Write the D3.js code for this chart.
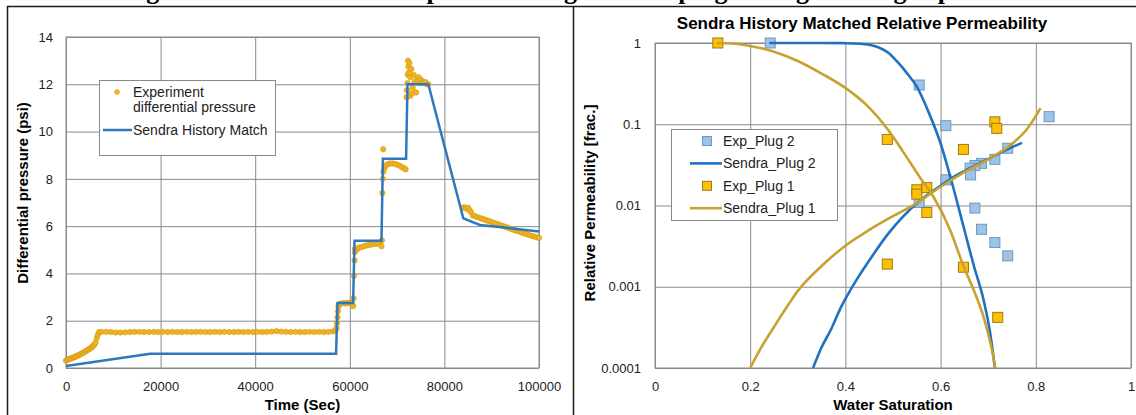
<!DOCTYPE html>
<html>
<head>
<meta charset="utf-8">
<script src="https://cdn.jsdelivr.net/npm/d3@7/dist/d3.min.js"></script>
<style>
  body { margin: 0; background: #fff; }
  svg { display: block; }
</style>
</head>
<body>
<svg id="chart" width="1136" height="415"></svg>
<script>
// ---------- data: left panel (differential pressure vs time) ----------
const timeTicks = [0, 20000, 40000, 60000, 80000, 100000];
const pressureTicks = [0, 2, 4, 6, 8, 10, 12, 14];

// experiment differential pressure, [time sec, psi]
const expPressure = [
  [0,0.32],[250,0.34],[500,0.36],[750,0.38],[1000,0.40],[1250,0.42],[1500,0.44],[1750,0.46],
  [2000,0.48],[2250,0.50],[2500,0.53],[2750,0.55],[3000,0.58],[3250,0.60],[3500,0.63],[3750,0.66],
  [4000,0.69],[4250,0.72],[4500,0.75],[4750,0.78],[5000,0.81],[5250,0.85],[5500,0.89],[5750,0.94],
  [6000,0.99],[6250,1.08],[6500,1.27],[6750,1.42],[7000,1.52],
  [7500,1.53],[8500,1.53],[9500,1.52],[10500,1.50],[11500,1.50],[12500,1.51],[13500,1.52],[14500,1.53],
  [15500,1.53],[16500,1.52],[17500,1.52],[18500,1.53],[19500,1.52],[20500,1.53],[21500,1.52],[22500,1.53],
  [23500,1.52],[24500,1.52],[25500,1.53],[26500,1.52],[27500,1.53],[28500,1.53],[29500,1.52],[30500,1.52],
  [31500,1.53],[32500,1.52],[33500,1.53],[34500,1.52],[35500,1.52],[36500,1.53],[37500,1.52],[38500,1.53],
  [39500,1.52],[40500,1.53],[41500,1.52],[42500,1.53],[43500,1.54],[44500,1.56],[45500,1.54],[46500,1.53],
  [47500,1.52],[48500,1.53],[49500,1.52],[50500,1.52],[51500,1.53],[52500,1.52],[53500,1.53],[54500,1.52],
  [55500,1.53],[56500,1.55],
  [57000,1.58],[57200,1.70],[57300,1.90],[57400,2.15],[57500,2.40],[57600,2.60],[57700,2.68],[58000,2.72],
  [58500,2.74],[59000,2.73],[59500,2.75],[60000,2.76],[60400,2.74],[60700,2.62],[60800,2.95],[60900,3.90],
  [61000,4.55],[61050,4.90],[61100,5.05],[61400,5.00],[61700,5.05],[62000,5.10],[62500,5.12],[63000,5.15],
  [63500,5.18],[64000,5.20],[64500,5.22],[65000,5.24],[65500,5.25],[66000,5.27],[66400,5.28],[66700,5.15],
  [66800,5.40],
  [66900,7.40],[67000,8.00],[67050,9.25],[67100,8.30],[67300,8.45],[67600,8.55],[68000,8.62],[68500,8.65],
  [69000,8.65],[69500,8.63],[70000,8.60],[70500,8.56],[71000,8.50],[71500,8.45],[71800,8.40],
  [72000,11.45],[72100,11.75],[72200,12.05],[72250,12.40],[72300,13.00],[72400,12.75],[72500,12.50],[72600,12.90],
  [72700,11.50],[72800,12.30],[73000,12.65],[73100,11.60],[73300,11.85],[73500,12.40],[73700,12.10],[74000,11.65],
  [74200,12.20],[74500,12.30],[74800,12.05],[75000,12.20],[75300,12.10],[75600,12.05],[76000,12.10],[76300,12.00],
  [76600,12.00],
  [84000,6.78],[84300,6.80],[84600,6.74],[85000,6.78],[85300,6.68],[85600,6.60],[86000,6.45],[86500,6.42],
  [87000,6.38],[87500,6.35],[88000,6.31],[88500,6.28],[89000,6.24],[89500,6.21],[90000,6.17],[90500,6.14],
  [91000,6.10],[91500,6.07],[92000,6.03],[92500,6.00],[93000,5.96],[93500,5.93],[94000,5.89],[94500,5.86],
  [95000,5.82],[95500,5.79],[96000,5.76],[96500,5.72],[97000,5.69],[97500,5.66],[98000,5.62],[98500,5.59],
  [99000,5.56],[99500,5.53],[100000,5.50]
];

// Sendra history match, [time sec, psi]
const matchPressure = [
  [0,0.08],[17800,0.60],[57100,0.60],[57400,2.75],[60700,2.75],[61000,5.38],[66700,5.38],[67000,8.85],
  [71900,8.85],[72200,12.0],[76600,12.0],[84000,6.33],[87500,6.05],[93200,5.93],[100000,5.77]
];

// ---------- data: right panel (relative permeability vs water saturation) ----------
const satTicks = [0, 0.2, 0.4, 0.6, 0.8, 1];
const permTicks = [0.0001, 0.001, 0.01, 0.1, 1];
const permTickLabels = ["0.0001", "0.001", "0.01", "0.1", "1"];

const plug2ExpSw = [0.242, 0.555, 0.611, 0.828, 0.741, 0.714, 0.686, 0.672, 0.662, 0.663, 0.611, 0.555, 0.672, 0.686, 0.714, 0.741];
const plug2ExpKr = [1.0, 0.304, 0.096, 0.124, 0.0506, 0.037, 0.033, 0.031, 0.0288, 0.0238, 0.0207, 0.0109, 0.0093, 0.0051, 0.0035, 0.0024];

const plug1ExpSw = [0.132, 0.488, 0.714, 0.718, 0.648, 0.550, 0.550, 0.571, 0.571, 0.488, 0.648, 0.720];
const plug1ExpKr = [1.0, 0.065, 0.107, 0.089, 0.049, 0.0156, 0.0138, 0.0166, 0.0082, 0.0019, 0.00174, 0.00042];

const plug2KroSw = [0.24, 0.3, 0.35, 0.4, 0.43, 0.45, 0.47, 0.49, 0.51, 0.53, 0.55, 0.575, 0.6, 0.625, 0.65, 0.67, 0.69, 0.705, 0.714];
const plug2KroKr = [1.0, 1.0, 1.0, 0.995, 0.98, 0.95, 0.88, 0.76, 0.58, 0.42, 0.29, 0.14, 0.058, 0.018, 0.005, 0.0018, 0.0007, 0.00025, 0.0001];
const plug2KrwSw = [0.332, 0.35, 0.37, 0.39, 0.41, 0.43, 0.45, 0.49, 0.52, 0.557, 0.6, 0.63, 0.662, 0.71, 0.746, 0.771];
const plug2KrwKr = [0.0001, 0.00018, 0.0003, 0.00055, 0.0009, 0.0014, 0.0021, 0.0045, 0.0072, 0.0115, 0.0175, 0.023, 0.029, 0.04, 0.051, 0.059];

const plug1KroSw = [0.13, 0.17, 0.2, 0.25, 0.3, 0.35, 0.4, 0.45, 0.49, 0.52, 0.557, 0.585, 0.62, 0.648, 0.67, 0.69, 0.705, 0.715];
const plug1KroKr = [1.0, 0.98, 0.92, 0.78, 0.6, 0.42, 0.28, 0.16, 0.085, 0.047, 0.022, 0.0128, 0.005, 0.0018, 0.0009, 0.00043, 0.0002, 0.0001];
const plug1KrwSw = [0.2, 0.22, 0.25, 0.28, 0.3, 0.35, 0.4, 0.45, 0.5, 0.55, 0.6, 0.65, 0.7, 0.75, 0.78, 0.8, 0.81];
const plug1KrwKr = [0.0001, 0.000166, 0.00032, 0.0006, 0.00089, 0.0018, 0.0032, 0.005, 0.0074, 0.0107, 0.017, 0.0257, 0.037, 0.0575, 0.085, 0.126, 0.158];

// ---------- style ----------
const font = "'Liberation Sans', Arial, sans-serif";
const gridColor = "#8a8a8a";
const dotColor = "#EFB220";
const matchBlue = "#2F78BE";
const plug1Line = "#C9A12F";
const plug2Line = "#1F73BE";
const plug1Fill = "#FFC000";
const plug2Fill = "#9DC3E6";

const svg = d3.select("#chart");

// caption of the page, cut off at the top as in the source
svg.append("text")
  .attr("x", 586)
  .attr("y", -1)
  .attr("text-anchor", "middle")
  .attr("font-family", "'Liberation Serif', 'Times New Roman', serif")
  .attr("font-weight", "bold")
  .attr("font-size", "26px")
  .attr("fill", "#000")
  .text("Figure 6: Water saturation profiles along the core plug during flooding experiments");

// panel frames
svg.append("path")
  .attr("d", "M7.5,415V6.5H1136M573.5,6.5V415")
  .attr("fill", "none")
  .attr("stroke", "#1a1a1a")
  .attr("stroke-width", 1.5);

// === Left chart ===
const xL = d3.scaleLinear().domain([0, 100000]).range([66, 539]);
const yL = d3.scaleLinear().domain([0, 14]).range([368, 37]);

const left = svg.append("g");

left.append("g")
  .attr("transform", `translate(0,${yL(0)})`)
  .call(d3.axisBottom(xL).tickValues(timeTicks).tickSize(-(yL(0) - yL(14))).tickPadding(14).tickFormat(d3.format("d")))
  .call(g => g.select(".domain").remove());

left.append("g")
  .attr("transform", `translate(${xL(0)},0)`)
  .call(d3.axisLeft(yL).tickValues(pressureTicks).tickSize(-(xL(100000) - xL(0))).tickPadding(13))
  .call(g => g.select(".domain").remove());

left.append("rect")
  .attr("x", xL(0)).attr("y", yL(14))
  .attr("width", xL(100000) - xL(0)).attr("height", yL(0) - yL(14))
  .attr("fill", "none").attr("stroke", gridColor);

left.append("g")
  .selectAll("circle")
  .data(expPressure)
  .join("circle")
  .attr("cx", d => xL(d[0]))
  .attr("cy", d => yL(d[1]))
  .attr("r", 2.7)
  .attr("fill", dotColor)
  .attr("stroke", "#D49C14")
  .attr("stroke-width", 0.6);

left.append("path")
  .datum(matchPressure)
  .attr("fill", "none")
  .attr("stroke", matchBlue)
  .attr("stroke-width", 2.5)
  .attr("d", d3.line().x(d => xL(d[0])).y(d => yL(d[1])));

left.append("text")
  .attr("x", (xL(0) + xL(100000)) / 2).attr("y", 410)
  .attr("text-anchor", "middle").attr("font-weight", "bold").attr("font-size", "15px")
  .text("Time (Sec)");

left.append("text")
  .attr("transform", "translate(28,193) rotate(-90)")
  .attr("text-anchor", "middle").attr("font-weight", "bold").attr("font-size", "15px")
  .text("Differential pressure (psi)");

// legend
const legL = left.append("g");
legL.append("rect")
  .attr("x", 99.5).attr("y", 80.5).attr("width", 176).attr("height", 75)
  .attr("fill", "#fff").attr("stroke", gridColor);
legL.append("circle").attr("cx", 117).attr("cy", 92).attr("r", 2.8).attr("fill", dotColor);
legL.append("text").attr("x", 133).attr("y", 97).text("Experiment");
legL.append("text").attr("x", 133).attr("y", 112).text("differential pressure");
legL.append("line").attr("x1", 103).attr("x2", 132).attr("y1", 130).attr("y2", 130)
  .attr("stroke", matchBlue).attr("stroke-width", 2.5);
legL.append("text").attr("x", 133).attr("y", 135).text("Sendra History Match");
legL.selectAll("text").attr("font-size", "14px").attr("fill", "#222");

// === Right chart ===
const xR = d3.scaleLinear().domain([0, 1]).range([655, 1131]);
const yR = d3.scaleLog().domain([0.0001, 1]).range([368, 43]);

const right = svg.append("g");

right.append("g")
  .attr("transform", `translate(0,${yR(0.0001)})`)
  .call(d3.axisBottom(xR).tickValues(satTicks).tickSize(-(yR(0.0001) - yR(1))).tickPadding(14).tickFormat(d => d3.format("")(d)))
  .call(g => g.select(".domain").remove());

right.append("g")
  .attr("transform", `translate(${xR(0)},0)`)
  .call(d3.axisLeft(yR).tickValues(permTicks).tickSize(-(xR(1) - xR(0))).tickPadding(14)
    .tickFormat((d, i) => permTickLabels[i]))
  .call(g => g.select(".domain").remove());

right.append("rect")
  .attr("x", xR(0)).attr("y", yR(1))
  .attr("width", xR(1) - xR(0)).attr("height", yR(0.0001) - yR(1))
  .attr("fill", "none").attr("stroke", gridColor);

const krLine = d3.line().curve(d3.curveMonotoneX).x(d => xR(d[0])).y(d => yR(d[1]));
const zip = (a, b) => a.map((v, i) => [v, b[i]]);
const sq = 10;

const drawSquares = (sw, kr, fill, stroke) => {
  right.append("g")
    .selectAll("rect")
    .data(zip(sw, kr))
    .join("rect")
    .attr("x", d => xR(d[0]) - sq / 2)
    .attr("y", d => yR(d[1]) - sq / 2)
    .attr("width", sq).attr("height", sq)
    .attr("fill", fill).attr("stroke", stroke).attr("stroke-width", 1);
};
const drawCurve = (sw, kr, color) => {
  right.append("path")
    .datum(zip(sw, kr))
    .attr("fill", "none").attr("stroke", color).attr("stroke-width", 2.6)
    .attr("d", krLine);
};

// series order as in the legend
drawSquares(plug2ExpSw, plug2ExpKr, plug2Fill, "#7098C0");
drawCurve(plug2KroSw, plug2KroKr, plug2Line);
drawCurve(plug2KrwSw, plug2KrwKr, plug2Line);
drawSquares(plug1ExpSw, plug1ExpKr, plug1Fill, "#9C7A1B");
drawCurve(plug1KroSw, plug1KroKr, plug1Line);
drawCurve(plug1KrwSw, plug1KrwKr, plug1Line);

right.append("text")
  .attr("x", 862).attr("y", 29)
  .attr("text-anchor", "middle").attr("font-weight", "bold").attr("font-size", "17px")
  .text("Sendra History Matched Relative Permeability");

right.append("text")
  .attr("x", (xR(0) + xR(1)) / 2).attr("y", 410)
  .attr("text-anchor", "middle").attr("font-weight", "bold").attr("font-size", "15px")
  .text("Water Saturation");

right.append("text")
  .attr("transform", "translate(595,203) rotate(-90)")
  .attr("text-anchor", "middle").attr("font-weight", "bold").attr("font-size", "15px")
  .text("Relative Permeability [frac.]");

// legend
const legItems = [
  { label: "Exp_Plug 2", kind: "square", fill: plug2Fill, stroke: "#7098C0" },
  { label: "Sendra_Plug 2", kind: "line", stroke: plug2Line },
  { label: "Exp_Plug 1", kind: "square", fill: plug1Fill, stroke: "#9C7A1B" },
  { label: "Sendra_Plug 1", kind: "line", stroke: plug1Line }
];
const legR = right.append("g");
legR.append("rect")
  .attr("x", 671.5).attr("y", 129.5).attr("width", 166).attr("height", 91)
  .attr("fill", "#fff").attr("stroke", gridColor);
legR.selectAll("g")
  .data(legItems)
  .join("g")
  .attr("transform", (d, i) => `translate(0,${141 + i * 22.4})`)
  .each(function (d) {
    const g = d3.select(this);
    if (d.kind === "square") {
      g.append("rect").attr("x", 702.5).attr("y", -4.5).attr("width", 9).attr("height", 9)
        .attr("fill", d.fill).attr("stroke", d.stroke);
    } else {
      g.append("line").attr("x1", 690).attr("x2", 722).attr("y1", 0).attr("y2", 0)
        .attr("stroke", d.stroke).attr("stroke-width", 2.6);
    }
    g.append("text").attr("x", 723).attr("y", 5).attr("font-size", "14px").attr("fill", "#222").text(d.label);
  });

// shared axis text style
svg.selectAll(".tick text").attr("font-size", "13px").attr("fill", "#222").attr("font-family", font);
svg.selectAll(".tick line").attr("stroke", gridColor);
svg.selectAll("text").filter(function () { return !this.getAttribute("font-family"); }).attr("font-family", font);
</script>
</body>
</html>
